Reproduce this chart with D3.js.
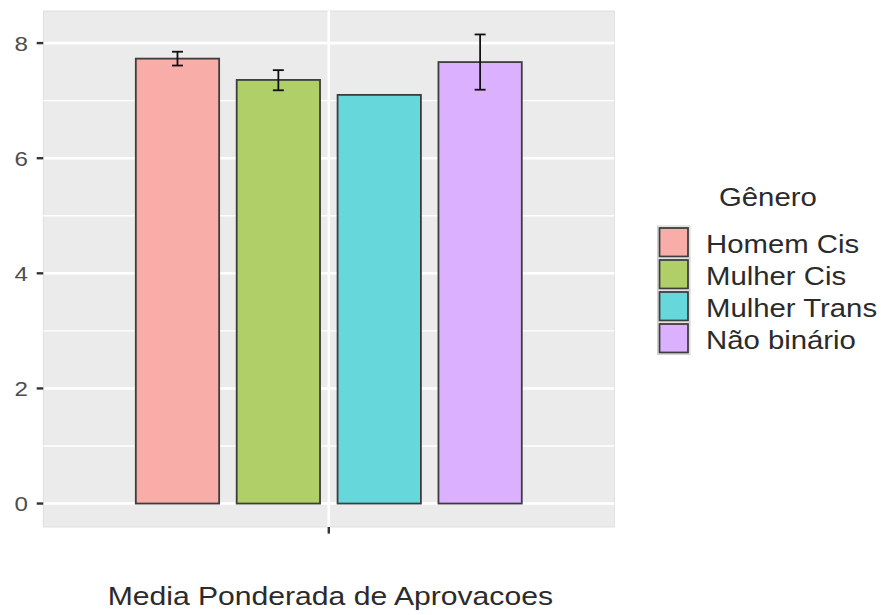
<!DOCTYPE html>
<html>
<head>
<meta charset="utf-8">
<script src="https://cdn.jsdelivr.net/npm/d3@7"></script>
<style>
  html, body { margin: 0; padding: 0; background: #ffffff; }
  svg { display: block; }
  text { font-family: "Liberation Sans", Arial, sans-serif; }
</style>
</head>
<body>
<svg id="chart" width="887" height="615"></svg>
<script>
// Data: mean weighted approval score by gender, with error-bar bounds
const category = "";
const genders = ["Homem Cis", "Mulher Cis", "Mulher Trans", "Não binário"];
const means = [7.73, 7.36, 7.10, 7.67];
const lower = [7.61, 7.18, null, 7.19];
const upper = [7.85, 7.53, null, 8.15];
const fills = ["#F9ADA8", "#B0CF68", "#66D8DB", "#DBB0FF"];
const yTicks = [0, 2, 4, 6, 8];
const yMinor = [1, 3, 5, 7];
const xTitle = "Media Ponderada de Aprovacoes";
const legendTitle = "Gênero";

const rows = genders.map((g, i) => ({ g, mean: means[i], lo: lower[i], hi: upper[i], fill: fills[i] }));

const W = 887, H = 615;
const panel = { left: 43.3, top: 11, right: 614.3, bottom: 527 };
const SX = 1.15; // horizontal glyph stretch
const TEXT = "#2b2b2b";

const svg = d3.select("#chart");

// Scales
const yMax = d3.max(rows, d => Math.max(d.mean, d.hi ?? 0));
const yPad = yMax * 0.05;
const y = d3.scaleLinear().domain([-yPad, yMax + yPad]).range([panel.bottom, panel.top]);
const xOuter = d3.scaleBand().domain([category]).range([panel.left, panel.right])
  .paddingInner(0).paddingOuter(0.2397);
const xInner = d3.scaleBand().domain(genders).range([0, xOuter.bandwidth()])
  .paddingInner(0.174).paddingOuter(0);
const color = d3.scaleOrdinal().domain(genders).range(fills);

// Helper for horizontally stretched text
function label(sel, x, yy, str, size, anchor, fill) {
  return sel.append("text")
    .attr("transform", `translate(${x},${yy}) scale(${SX},1)`)
    .attr("text-anchor", anchor)
    .attr("font-size", size)
    .attr("fill", fill)
    .text(str);
}

// Panel background
svg.append("rect")
  .attr("x", panel.left).attr("y", panel.top)
  .attr("width", panel.right - panel.left).attr("height", panel.bottom - panel.top)
  .attr("fill", "#EBEBEB").attr("stroke", "#D9D9D9").attr("stroke-width", 0.8);

// Grid lines
const grid = svg.append("g");
grid.selectAll("line.minor").data(yMinor).join("line")
  .attr("x1", panel.left).attr("x2", panel.right)
  .attr("y1", d => y(d)).attr("y2", d => y(d))
  .attr("stroke", "#ffffff").attr("stroke-width", 1.3);
grid.selectAll("line.major").data(yTicks).join("line")
  .attr("x1", panel.left).attr("x2", panel.right)
  .attr("y1", d => y(d)).attr("y2", d => y(d))
  .attr("stroke", "#ffffff").attr("stroke-width", 2.6);
grid.append("line")
  .attr("x1", xOuter(category) + xOuter.bandwidth() / 2)
  .attr("x2", xOuter(category) + xOuter.bandwidth() / 2)
  .attr("y1", panel.top).attr("y2", panel.bottom)
  .attr("stroke", "#ffffff").attr("stroke-width", 2.6);

// Bars
const gBars = svg.append("g").attr("transform", `translate(${xOuter(category)},0)`);
gBars.selectAll("rect").data(rows).join("rect")
  .attr("x", d => xInner(d.g))
  .attr("width", xInner.bandwidth())
  .attr("y", d => y(d.mean))
  .attr("height", d => y(0) - y(d.mean))
  .attr("fill", d => color(d.g))
  .attr("stroke", "#3d3d3d").attr("stroke-width", 1.8);

// Error bars
const eb = rows.filter(d => d.lo != null);
const whisker = 5.5;
const gErr = gBars.append("g").attr("stroke", "#111").attr("stroke-width", 1.8);
eb.forEach(d => {
  const cx = xInner(d.g) + xInner.bandwidth() / 2;
  gErr.append("line").attr("x1", cx).attr("x2", cx).attr("y1", y(d.lo)).attr("y2", y(d.hi));
  gErr.append("line").attr("x1", cx - whisker).attr("x2", cx + whisker).attr("y1", y(d.hi)).attr("y2", y(d.hi));
  gErr.append("line").attr("x1", cx - whisker).attr("x2", cx + whisker).attr("y1", y(d.lo)).attr("y2", y(d.lo));
});

// Y axis ticks and labels
const yAxis = svg.append("g");
yAxis.selectAll("line").data(yTicks).join("line")
  .attr("x1", panel.left - 6.6).attr("x2", panel.left)
  .attr("y1", d => y(d)).attr("y2", d => y(d))
  .attr("stroke", "#333333").attr("stroke-width", 2.4);
yTicks.forEach(t => label(yAxis, 28, y(t) + 7.6, String(t), 21, "end", "#4D4D4D"));

// X axis tick
const xc = xOuter(category) + xOuter.bandwidth() / 2;
svg.append("line")
  .attr("x1", xc).attr("x2", xc)
  .attr("y1", panel.bottom).attr("y2", panel.bottom + 6.6)
  .attr("stroke", "#333333").attr("stroke-width", 2.4);

// X axis title
label(svg, xc + 1.5, 605, xTitle, 26.2, "middle", TEXT);

// Legend
const lg = svg.append("g");
label(lg, 719, 206, legendTitle, 25.5, "start", TEXT);
const keyX = 658, keyY0 = 226.5, keyStep = 32, keySize = 31.5;
rows.forEach((d, i) => {
  const ky = keyY0 + i * keyStep;
  lg.append("rect").attr("x", keyX - 0.5).attr("y", ky - 0.5)
    .attr("width", keySize + 1).attr("height", keySize + 1)
    .attr("fill", "#F2F2F2").attr("stroke", "#C8C8C8").attr("stroke-width", 0.8);
  lg.append("rect").attr("x", keyX + 1.5).attr("y", ky + 1.5)
    .attr("width", keySize - 3).attr("height", keySize - 3)
    .attr("fill", color(d.g)).attr("stroke", "#3d3d3d").attr("stroke-width", 1.8);
  label(lg, 706, ky + 26.8, d.g, 25.5, "start", TEXT);
});
</script>
</body>
</html>
